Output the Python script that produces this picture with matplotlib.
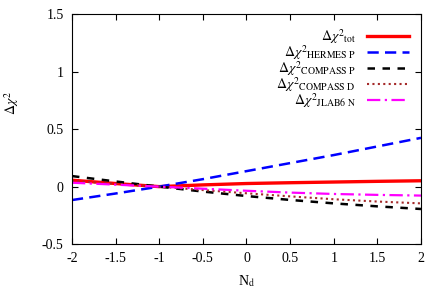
import numpy as np
import matplotlib
matplotlib.use("Agg")
import matplotlib.pyplot as plt

plt.rcParams["font.family"] = ["Liberation Serif", "DejaVu Serif"]
plt.rcParams["mathtext.fontset"] = "stix"
plt.rcParams["font.size"] = 10

# values
nd = [-2, -1.5, -1, -0.5, 0, 0.5, 1, 1.5, 2]
tot = [0.056, 0.027, 0.0, 0.015, 0.027, 0.034, 0.040, 0.046, 0.051]
hermes_p = [-0.117, -0.060, 0.0, 0.065, 0.135, 0.205, 0.275, 0.350, 0.425]
compass_p = [0.092, 0.045, 0.0, -0.043, -0.082, -0.116, -0.146, -0.172, -0.195]
compass_d = [0.050, 0.025, 0.0, -0.030, -0.058, -0.085, -0.110, -0.130, -0.146]
jlab6_n = [0.034, 0.017, 0.0, -0.018, -0.036, -0.052, -0.064, -0.072, -0.078]

labels = [r"$\Delta\chi^{2}{}_{\rm tot}$",
          r"$\Delta\chi^{2}{}_{\rm HERMES\ P}$",
          r"$\Delta\chi^{2}{}_{\rm COMPASS\ P}$",
          r"$\Delta\chi^{2}{}_{\rm COMPASS\ D}$",
          r"$\Delta\chi^{2}{}_{\rm JLAB6\ N}$"]
xticks = [-2, -1.5, -1, -0.5, 0, 0.5, 1, 1.5, 2]
yticks = [-0.5, 0, 0.5, 1, 1.5]

fig = plt.figure(figsize=(4.36, 3.05), dpi=100)
ax = fig.add_axes([0.165, 0.2, 0.8006, 0.7525])

ax.plot(nd, tot, color="#ff0000", lw=2.4, label=labels[0])
ax.plot(nd, hermes_p, color="#0000ff", lw=1.8, dashes=(4.5, 2.5), label=labels[1])
ax.plot(nd, compass_p, color="black", lw=1.8, dashes=(3, 3), label=labels[2])
ax.plot(nd, compass_d, color="#a52a2a", lw=1.5, dashes=(1, 1.6), label=labels[3])
ax.plot(nd, jlab6_n, color="#ff00ff", lw=1.6, dashes=(6, 2, 1, 2), label=labels[4])

ax.set_xlim(-2, 2)
ax.set_ylim(-0.5, 1.5)
ax.set_xticks(xticks)
ax.set_xticklabels([f"{t:g}" for t in xticks])
ax.set_yticks(yticks)
ax.set_yticklabels([f"{t:g}" for t in yticks])
ax.tick_params(direction="in", top=True, right=True, length=4, width=0.8, pad=6)
for s in ax.spines.values():
    s.set_linewidth(0.8)

ax.set_xlabel(r"N$_{\rm d}$", labelpad=6)
ax.set_ylabel(r"$\Delta\chi^{2}$")
ax.yaxis.set_label_coords(-0.145, 0.614)

leg = ax.legend(loc="upper right", frameon=False, markerfirst=False,
                handlelength=3.0, labelspacing=-0.2, borderaxespad=0.5,
                handletextpad=0.8, fontsize=10)
for t in leg.get_texts():
    t.set_ha("right")

fig.savefig("out.png", dpi=100)
